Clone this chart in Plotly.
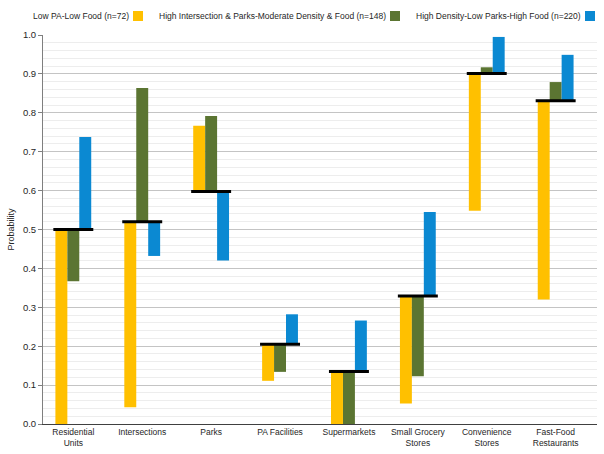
import plotly.graph_objects as go

categories = ["Residential<br>Units", "Intersections", "Parks", "PA Facilities",
              "Supermarkets", "Small Grocery<br>Stores", "Convenience<br>Stores",
              "Fast-Food<br>Restaurants"]
overall = [0.500, 0.520, 0.598, 0.205, 0.135, 0.329, 0.901, 0.831]
low_pa_low_food = [0.000, 0.043, 0.767, 0.111, 0.000, 0.053, 0.548, 0.320]
high_int_parks = [0.367, 0.864, 0.792, 0.134, 0.000, 0.123, 0.917, 0.879]
high_density = [0.738, 0.432, 0.420, 0.282, 0.266, 0.545, 0.995, 0.949]

series_names = ["Low PA-Low Food (n=72)",
                "High Intersection & Parks-Moderate Density & Food (n=148)",
                "High Density-Low Parks-High Food (n=220)"]
series_values = [low_pa_low_food, high_int_parks, high_density]
colors = ["#FFC000", "#5B7532", "#0B89D2"]

W, H = 604, 454
ML, MR, MT, MB = 43, 7, 35, 30
pw, ph = W - ML - MR, H - MT - MB

xs = list(range(len(categories)))
fig = go.Figure()
for name, vals, col in zip(series_names, series_values, colors):
    fig.add_trace(go.Bar(
        x=xs, y=[v - b for v, b in zip(vals, overall)], base=overall,
        name=name, marker=dict(color=col, line=dict(width=0)),
        showlegend=False))

# overall reference lines
lx, ly = [], []
half = 0.29
for i, b in enumerate(overall):
    lx += [i - half, i + half, None]
    ly += [b, b, None]
fig.add_trace(go.Scatter(x=lx, y=ly, mode="lines",
                         line=dict(color="black", width=3),
                         showlegend=False, hoverinfo="skip"))

# legend (text followed by a colour square)
def px_to_paper_x(px):
    return (px - ML) / pw

def px_to_paper_y(py):
    return 1 + (MT - py) / ph

legend_right = [131, 388, 583]
annotations = []
shapes = []
for name, col, xr in zip(series_names, colors, legend_right):
    annotations.append(dict(
        x=px_to_paper_x(xr), y=px_to_paper_y(16), xref="paper", yref="paper",
        text=name, showarrow=False, xanchor="right", yanchor="middle",
        font=dict(size=8.5, color="#262626")))
    shapes.append(dict(
        type="rect", xref="paper", yref="paper",
        x0=px_to_paper_x(xr + 2), x1=px_to_paper_x(xr + 12),
        y0=px_to_paper_y(21), y1=px_to_paper_y(11),
        fillcolor=col, line=dict(width=0)))

fig.update_layout(
    width=W, height=H,
    margin=dict(l=ML, r=MR, t=MT, b=MB, pad=0),
    paper_bgcolor="white", plot_bgcolor="white",
    barmode="group", bargap=0.48, bargroupgap=0,
    font=dict(family="Liberation Sans, Arial, sans-serif", size=9, color="#262626"),
    annotations=annotations, shapes=shapes,
    xaxis=dict(
        range=[-0.44, 7.6], tickmode="array", tickvals=xs, ticktext=categories,
        showgrid=False, zeroline=False, showline=True, linecolor="#404040",
        linewidth=1, ticks="", tickfont=dict(size=8.5)),
    yaxis=dict(
        range=[0, 1], dtick=0.1, tickformat=".1f", showgrid=True,
        gridcolor="#C4C4C4", gridwidth=1.2, zeroline=False, showline=True,
        linecolor="#7F7F7F", linewidth=1, ticks="outside", ticklen=4,
        tickcolor="#7F7F7F", tickfont=dict(size=9.5),
        title=dict(text="Probability", font=dict(size=9), standoff=6),
        minor=dict(dtick=0.02, showgrid=True, gridcolor="#EDEDED", gridwidth=1)),
)

fig.write_html("out.html", config={"displayModeBar": False},
               post_script="document.body.style.margin='0';document.body.style.padding='0';")
